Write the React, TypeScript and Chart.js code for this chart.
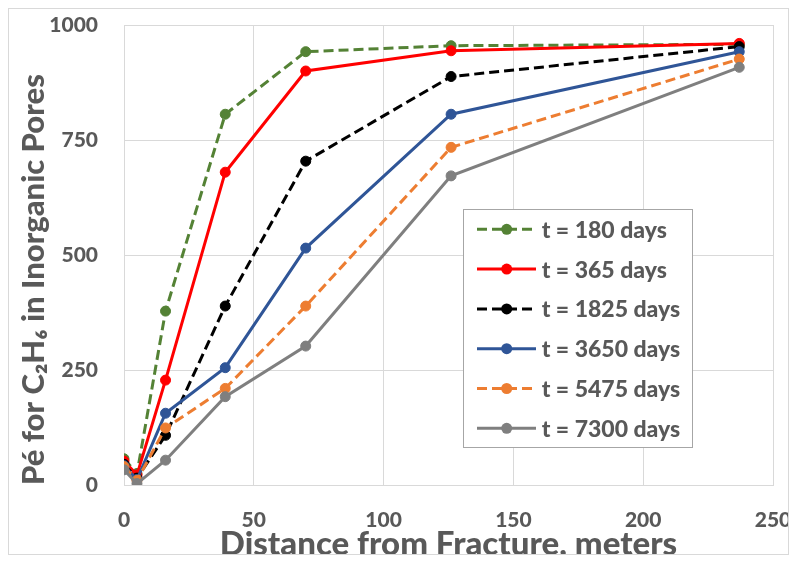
import React, { useEffect, useRef } from 'react';
import { Chart, registerables } from 'chart.js';

Chart.register(...registerables);

// ---- data ----
const distances = [0, 5, 16, 39, 70, 126, 237];
const seriesLabels = ['t = 180 days', 't = 365 days', 't = 1825 days', 't = 3650 days', 't = 5475 days', 't = 7300 days'];
const days180 = [57, 25, 378, 806, 942, 955, 958];
const days365 = [52, 22, 228, 680, 900, 944, 960];
const days1825 = [45, 15, 108, 389, 704, 888, 953];
const days3650 = [42, 12, 156, 255, 515, 806, 942];
const days5475 = [40, 10, 124, 210, 389, 734, 926];
const days7300 = [33, 3, 54, 192, 302, 672, 908];
const xTickValues = [0, 50, 100, 150, 200, 250];
const yTickValues = [0, 250, 500, 750, 1000];
const xTitle = 'Distance from Fracture, meters';
const yTitle = 'Pé for C₂H₆ in Inorganic Pores';

// ---- styles ----
const seriesColors = ['#548235', '#FF0000', '#000000', '#2F5597', '#ED7D31', '#7F7F7F'];
const seriesDashed = [true, false, true, false, true, false];
const DASH = [10, 5];
const FONT = 'Lato, "Open Sans", "DejaVu Sans", sans-serif';
const WEIGHT = '900';
const TEXT_COLOR = '#595959';
const GRID_COLOR = '#d9d9d9';

const allSeries = [days180, days365, days1825, days3650, days5475, days7300];

const insideLegend = {
  id: 'insideLegend',
  afterDraw(chart: any) {
    const ctx = chart.ctx as CanvasRenderingContext2D;
    const bx = 454.5, by = 200.5, bw = 229, bh = 238;
    ctx.save();
    ctx.fillStyle = '#ffffff';
    ctx.fillRect(bx, by, bw, bh);
    ctx.strokeStyle = '#a6a6a6';
    ctx.lineWidth = 1;
    ctx.strokeRect(bx, by, bw, bh);
    chart.data.datasets.forEach((ds: any, i: number) => {
      const cy = 220.3 + i * 39.8;
      ctx.save();
      ctx.strokeStyle = ds.borderColor;
      ctx.lineWidth = 3;
      ctx.setLineDash(ds.borderDash || []);
      ctx.beginPath();
      ctx.moveTo(468, cy);
      ctx.lineTo(527, cy);
      ctx.stroke();
      ctx.setLineDash([]);
      ctx.fillStyle = ds.borderColor;
      ctx.beginPath();
      ctx.arc(497.7, cy, 5.5, 0, Math.PI * 2);
      ctx.fill();
      ctx.restore();
      ctx.fillStyle = TEXT_COLOR;
      ctx.font = `${WEIGHT} 23px ${FONT}`;
      ctx.textBaseline = 'middle';
      ctx.textAlign = 'left';
      ctx.fillText(ds.label, 532.7, cy + 1);
    });
    ctx.restore();
  },
};

export default function App() {
  const canvasRef = useRef<HTMLCanvasElement | null>(null);

  useEffect(() => {
    const canvas = canvasRef.current;
    if (!canvas) return;
    const datasets = allSeries.map((values, i) => ({
      label: seriesLabels[i],
      data: values.map((v, j) => ({ x: distances[j], y: v })),
      borderColor: seriesColors[i],
      backgroundColor: seriesColors[i],
      pointBackgroundColor: seriesColors[i],
      pointBorderColor: seriesColors[i],
      borderWidth: 3,
      borderDash: seriesDashed[i] ? DASH : [],
      pointRadius: 5,
      pointBorderWidth: 1,
      tension: 0,
      fill: false,
      order: allSeries.length - i,
    }));

    const chart = new Chart(canvas, {
      type: 'line',
      data: { datasets },
      plugins: [insideLegend],
      options: {
        responsive: false,
        animation: false,
        devicePixelRatio: 1,
        layout: { padding: { left: 0, right: 15, top: 16, bottom: 0 } },
        plugins: {
          legend: { display: false },
          tooltip: { enabled: false },
          title: { display: false },
        },
        scales: {
          x: {
            type: 'linear',
            min: xTickValues[0],
            max: xTickValues[xTickValues.length - 1],
            afterBuildTicks: (scale: any) => {
              scale.ticks = xTickValues.map((v) => ({ value: v }));
            },
            afterFit: (scale: any) => {
              scale.height = 69;
              scale.paddingLeft = 0;
              scale.paddingRight = 0;
            },
            grid: { color: GRID_COLOR, lineWidth: 1, drawTicks: false },
            border: { display: true, color: GRID_COLOR, width: 1 },
            ticks: {
              color: TEXT_COLOR,
              padding: 23,
              maxRotation: 0,
              callback: (v: any) => String(v),
              font: { family: FONT, size: 21, weight: WEIGHT },
            },
            title: {
              display: true,
              text: xTitle,
              color: TEXT_COLOR,
              padding: 0,
              font: { family: FONT, size: 33, weight: WEIGHT, lineHeight: 0.6 },
            },
          },
          y: {
            type: 'linear',
            min: yTickValues[0],
            max: yTickValues[yTickValues.length - 1],
            afterBuildTicks: (scale: any) => {
              scale.ticks = yTickValues.map((v) => ({ value: v }));
            },
            afterFit: (scale: any) => {
              scale.width = 115;
              scale.paddingTop = 0;
              scale.paddingBottom = 0;
            },
            grid: { color: GRID_COLOR, lineWidth: 1, drawTicks: false },
            border: { display: true, color: GRID_COLOR, width: 1 },
            ticks: {
              color: TEXT_COLOR,
              padding: 26,
              callback: (v: any) => String(v),
              font: { family: FONT, size: 21, weight: WEIGHT },
            },
            title: {
              display: true,
              text: yTitle,
              align: 'start',
              color: TEXT_COLOR,
              padding: { top: 9.5, bottom: 0 },
              font: { family: FONT, size: 31, weight: WEIGHT, lineHeight: 1 },
            },
          },
        },
      } as any,
    });
    return () => chart.destroy();
  }, []);

  return (
    <div
      style={{
        width: 781,
        height: 547,
        border: '1px solid #d9d9d9',
        boxSizing: 'border-box',
        background: '#ffffff',
      }}
    >
      <canvas ref={canvasRef} width={779} height={545} style={{ display: 'block', width: 779, height: 545 }} />
    </div>
  );
}
